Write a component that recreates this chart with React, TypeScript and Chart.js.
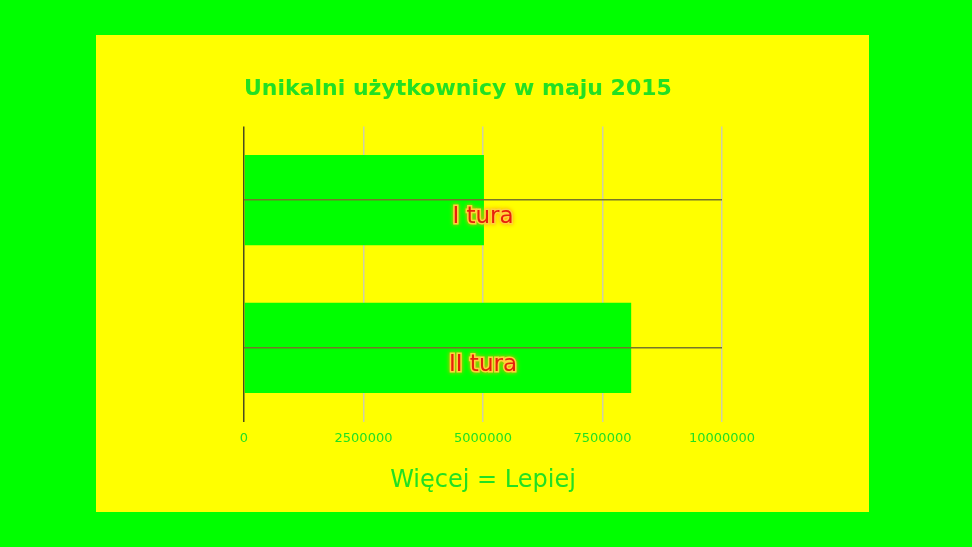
import React, { useEffect, useRef } from 'react';
import { Chart, registerables, Plugin } from 'chart.js';

Chart.register(...registerables);

const categories = ['I tura', 'II tura'];
const users = [5020000, 8100000];
const xTicks = [0, 2500000, 5000000, 7500000, 10000000];

const FONT = '"Comic Sans MS", "DejaVu Sans", sans-serif';
const GREEN = '#00ff00';
const TEXT_GREEN = '#22e022';

// draws the category names inside the plot, centred under each category line
const insideLabels: Plugin = {
  id: 'insideLabels',
  afterDraw(chart) {
    const { ctx, chartArea, scales } = chart;
    const y = scales.y;
    const cx = (chartArea.left + chartArea.right) / 2;
    ctx.save();
    ctx.font = `23px ${FONT}`;
    ctx.textAlign = 'center';
    ctx.textBaseline = 'middle';
    (chart.data.labels as string[]).forEach((label, i) => {
      const py = y.getPixelForValue(i) + 17;
      ctx.shadowColor = '#ffb000';
      ctx.shadowBlur = 4;
      ctx.lineWidth = 3;
      ctx.strokeStyle = '#ffd23a';
      ctx.strokeText(label, cx, py);
      ctx.shadowBlur = 0;
      ctx.fillStyle = '#e8200c';
      ctx.fillText(label, cx, py);
    });
    ctx.restore();
  },
};

const App = () => {
  const canvasRef = useRef<HTMLCanvasElement | null>(null);

  useEffect(() => {
    if (!canvasRef.current) return;
    const chart = new Chart(canvasRef.current, {
      type: 'bar',
      data: {
        labels: categories,
        datasets: [
          {
            data: users,
            backgroundColor: GREEN,
            borderWidth: 0,
            barPercentage: 0.612,
            categoryPercentage: 1,
          },
        ],
      },
      options: {
        indexAxis: 'y',
        animation: false,
        responsive: false,
        layout: { padding: { left: 148, right: 147, top: 0, bottom: 17 } },
        plugins: {
          legend: { display: false },
          tooltip: { enabled: false },
          title: {
            display: true,
            text: 'Unikalni użytkownicy w maju 2015',
            align: 'start',
            color: TEXT_GREEN,
            font: { family: FONT, size: 22, weight: 'bold' },
            padding: { top: 41, bottom: 24 },
          },
        },
        scales: {
          x: {
            min: 0,
            max: 10000000,
            afterBuildTicks: (axis) => {
              axis.ticks = xTicks.map((v) => ({ value: v }));
            },
            grid: {
              color: (c) => (c.tick && c.tick.value === 0 ? '#4a4a20' : '#cfcfa8'),
              drawTicks: false,
              lineWidth: 1.5,
            },
            border: { display: false },
            ticks: {
              color: TEXT_GREEN,
              font: { family: FONT, size: 13 },
              padding: 9,
              callback: (v) => String(v),
            },
            title: {
              display: true,
              text: 'Więcej = Lepiej',
              color: TEXT_GREEN,
              font: { family: FONT, size: 24 },
              padding: { top: 11, bottom: 0 },
            },
          },
          y: {
            type: 'category',
            grid: { offset: false, color: '#77762a', lineWidth: 1.5, drawTicks: false, z: 1 },
            border: { display: false },
            ticks: { display: false },
          },
        },
      },
      plugins: [insideLabels],
    });
    return () => chart.destroy();
  }, []);

  return (
    <div style={{ position: 'fixed', inset: 0, background: GREEN }}>
      <div style={{ position: 'absolute', left: 96, top: 35, width: 773, height: 477, background: '#ffff00' }}>
        <canvas ref={canvasRef} width={773} height={477} style={{ width: 773, height: 477, display: 'block' }} />
      </div>
    </div>
  );
};

export default App;
